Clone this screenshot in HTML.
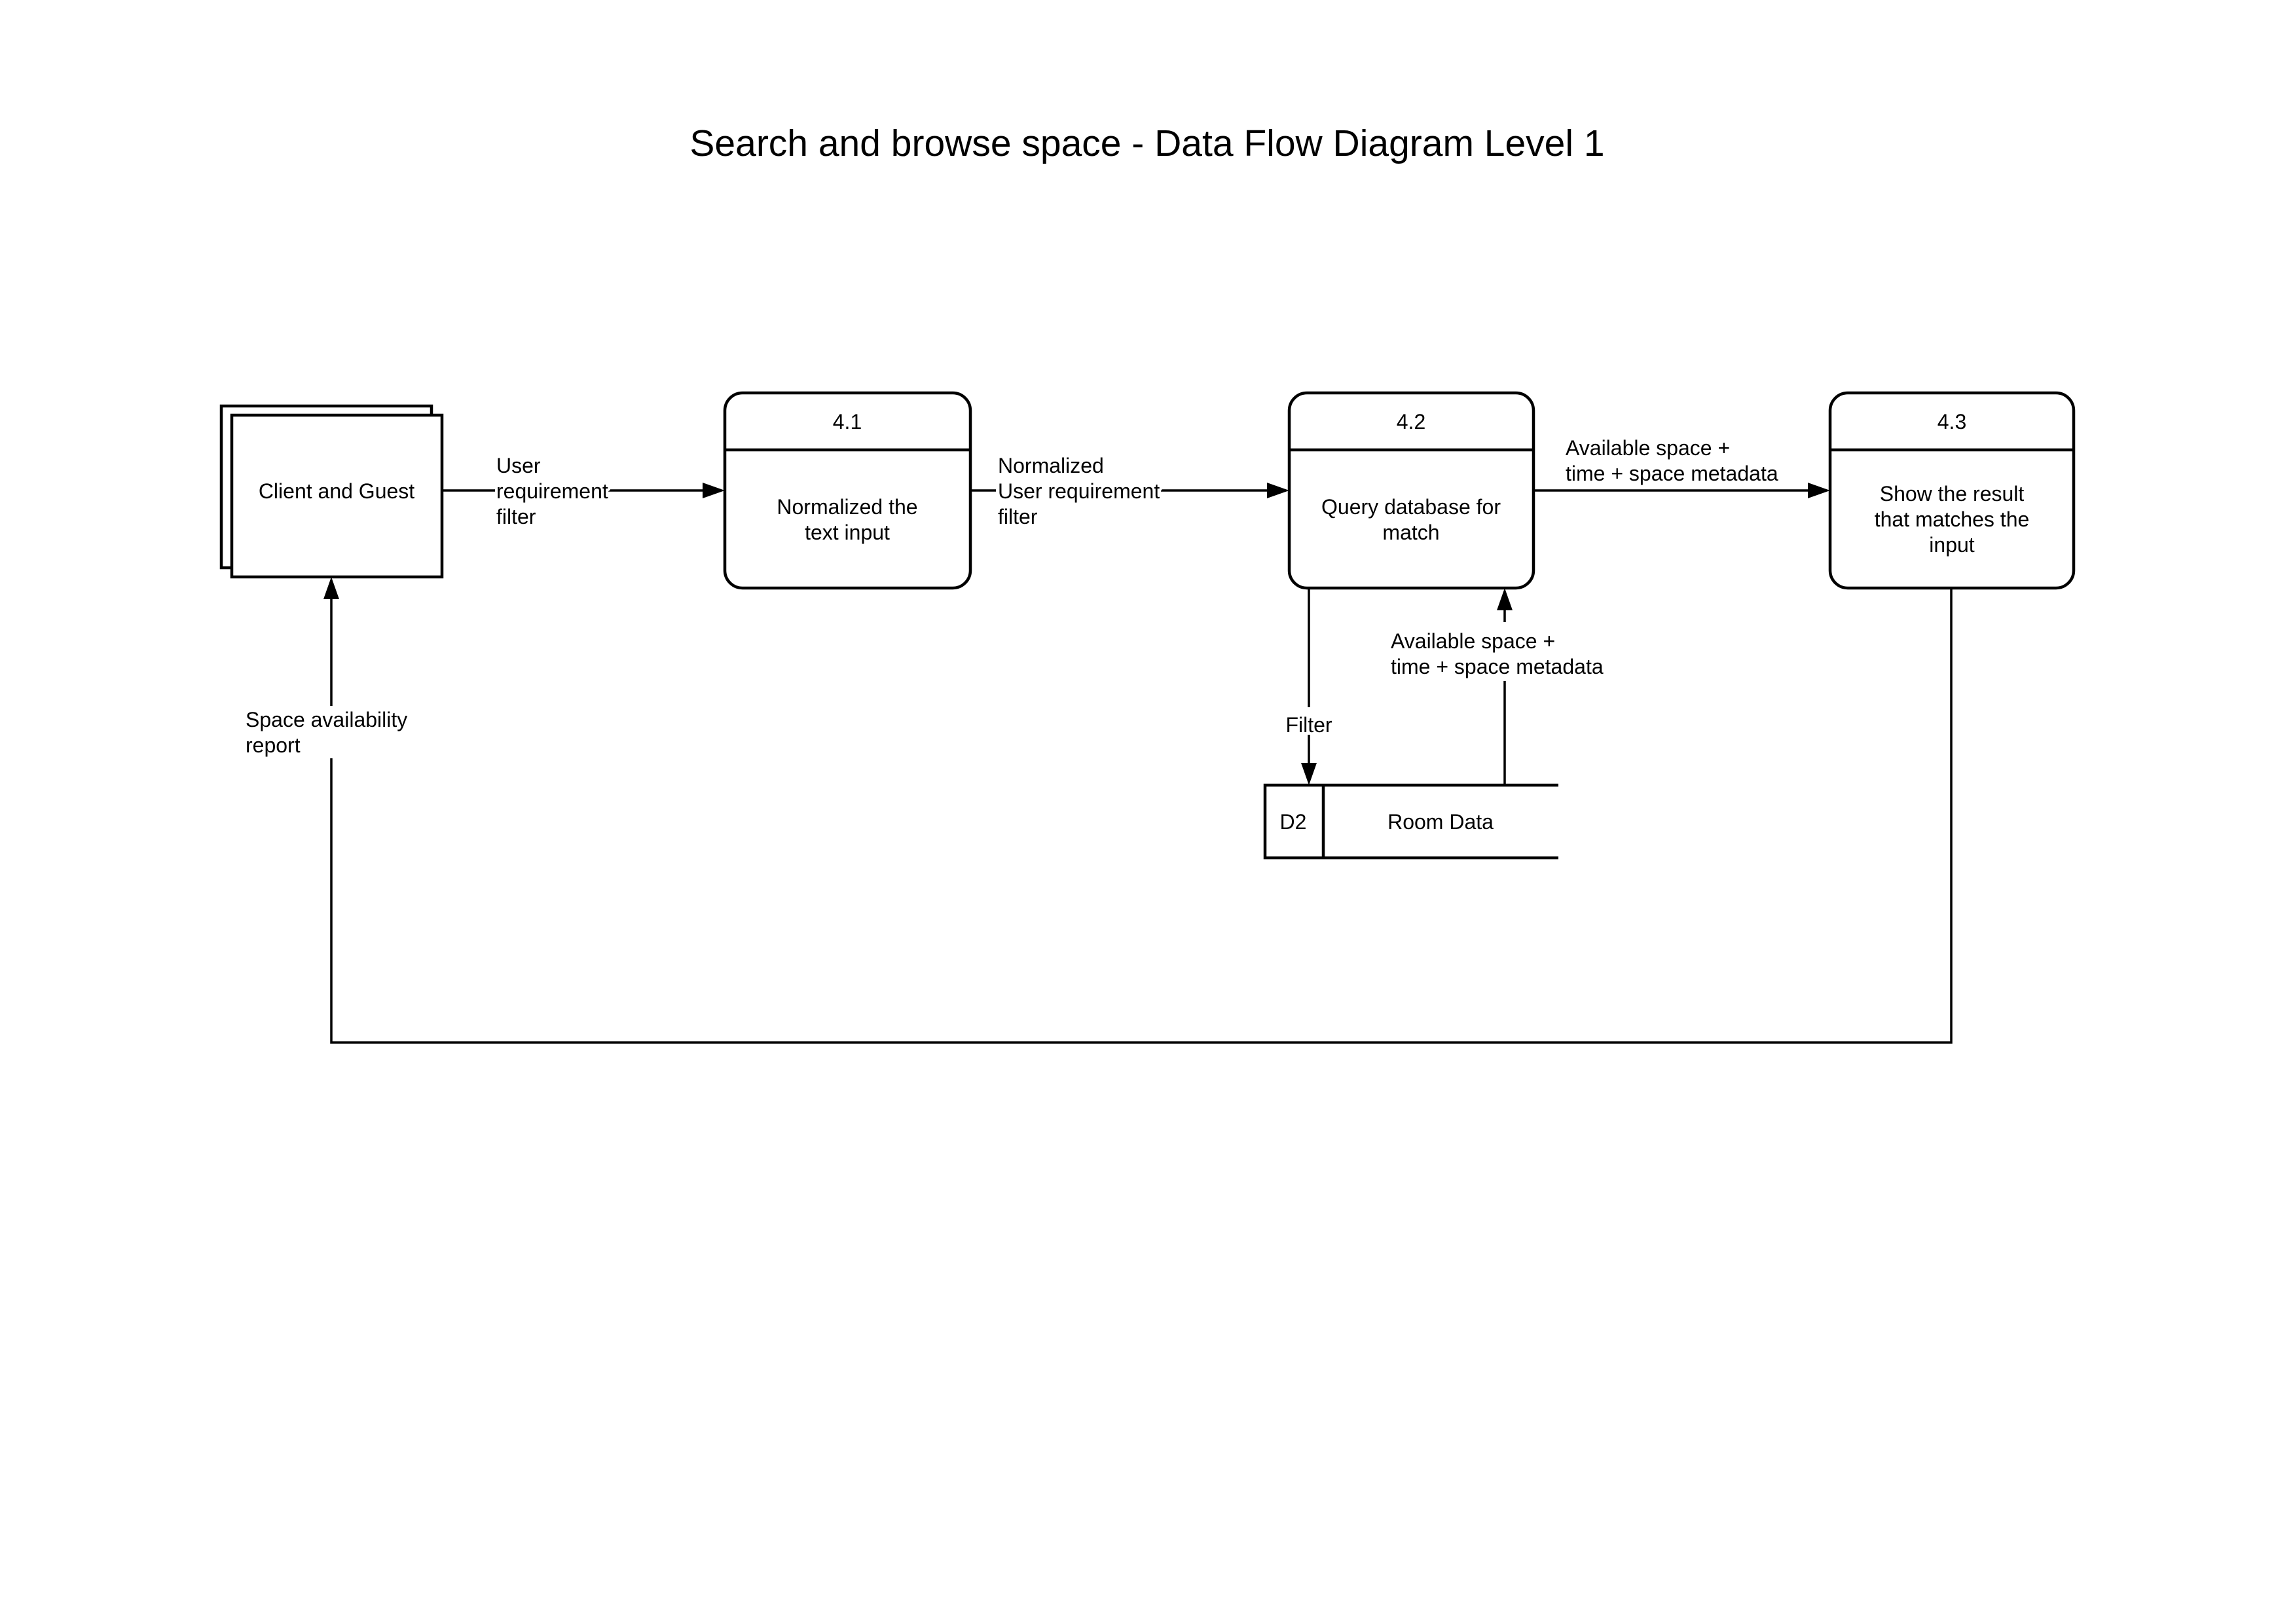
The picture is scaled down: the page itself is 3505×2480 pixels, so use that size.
<!DOCTYPE html>
<html><head><meta charset="utf-8"><style>
html,body{margin:0;padding:0;background:#fff}
svg{display:block}
text{font-family:"Liberation Sans",sans-serif;fill:#000}
.h{stroke:#fff;stroke-width:8;paint-order:stroke;stroke-linejoin:round}
</style></head><body>
<svg width="3505" height="2480" viewBox="0 0 3505 2480" xmlns="http://www.w3.org/2000/svg">
<rect width="3505" height="2480" fill="#fff"/>
<text x="1752" y="238" font-size="57" text-anchor="middle">Search and browse space - Data Flow Diagram Level 1</text>

<g fill="#fff" stroke="#000" stroke-width="4.5">
<rect x="338" y="620" width="321" height="247"/>
<rect x="354" y="634" width="321" height="247"/>
<rect x="1107" y="600" width="375" height="298" rx="27"/>
<rect x="1969" y="600" width="373" height="298" rx="27"/>
<rect x="2795" y="600" width="372" height="298" rx="27"/>
</g>
<g stroke="#000" stroke-width="4.5" fill="none">
<line x1="1107" y1="687" x2="1482" y2="687"/>
<line x1="1969" y1="687" x2="2342" y2="687"/>
<line x1="2795" y1="687" x2="3167" y2="687"/>
<path d="M2380 1199 H1932 V1310 H2380"/>
<line x1="2021" y1="1199" x2="2021" y2="1310"/>
</g>
<g stroke="#000" stroke-width="3.5" fill="none">
<line x1="675" y1="749" x2="1075" y2="749"/>
<line x1="1482" y1="749" x2="1940" y2="749"/>
<line x1="2342" y1="749" x2="2765" y2="749"/>
<line x1="1999" y1="898" x2="1999" y2="1168"/>
<line x1="2298" y1="1199" x2="2298" y2="928"/>
<path d="M2980 898 V1592 H506 V912"/>
</g>
<g fill="#000">
<polygon points="1107,749 1073,737 1073,761"/>
<polygon points="1969,749 1935,737 1935,761"/>
<polygon points="2795,749 2761,737 2761,761"/>
<polygon points="1999,1199 1987,1165 2011,1165"/>
<polygon points="2298,898 2286,932 2310,932"/>
<polygon points="506,881 494,915 518,915"/>
</g>
<g fill="#fff">
<rect x="1950" y="1080" width="100" height="42"/>
<rect x="2120" y="950" width="360" height="90"/>
<rect x="370" y="1078" width="300" height="80"/>
<rect x="756" y="735" width="172" height="30"/>
<rect x="1521" y="735" width="252" height="30"/>
</g>
<g font-size="32">
<text x="514" y="761" text-anchor="middle">Client and Guest</text>
<text x="1294" y="655" text-anchor="middle">4.1</text>
<text x="1294" y="785" text-anchor="middle">Normalized the</text>
<text x="1294" y="824" text-anchor="middle">text input</text>
<text x="2155" y="655" text-anchor="middle">4.2</text>
<text x="2155" y="785" text-anchor="middle">Query database for</text>
<text x="2155" y="824" text-anchor="middle">match</text>
<text x="2981" y="765" text-anchor="middle">Show the result</text>
<text x="2981" y="655" text-anchor="middle">4.3</text>
<text x="2981" y="804" text-anchor="middle">that matches the</text>
<text x="2981" y="843" text-anchor="middle">input</text>
<text x="1975" y="1266" text-anchor="middle">D2</text>
<text x="2200" y="1266" text-anchor="middle">Room Data</text>
<text class="h" x="758" y="722">User</text>
<text class="h" x="758" y="761">requirement</text>
<text class="h" x="758" y="800">filter</text>
<text class="h" x="1524" y="722">Normalized</text>
<text class="h" x="1524" y="761">User requirement</text>
<text class="h" x="1524" y="800">filter</text>
<text x="2391" y="695">Available space +</text>
<text x="2391" y="734">time + space metadata</text>
<text x="2124" y="990">Available space +</text>
<text x="2124" y="1029">time + space metadata</text>
<text x="1999" y="1118" text-anchor="middle">Filter</text>
<text x="375" y="1110">Space availability</text>
<text x="375" y="1149">report</text>
</g>
</svg>
</body></html>
